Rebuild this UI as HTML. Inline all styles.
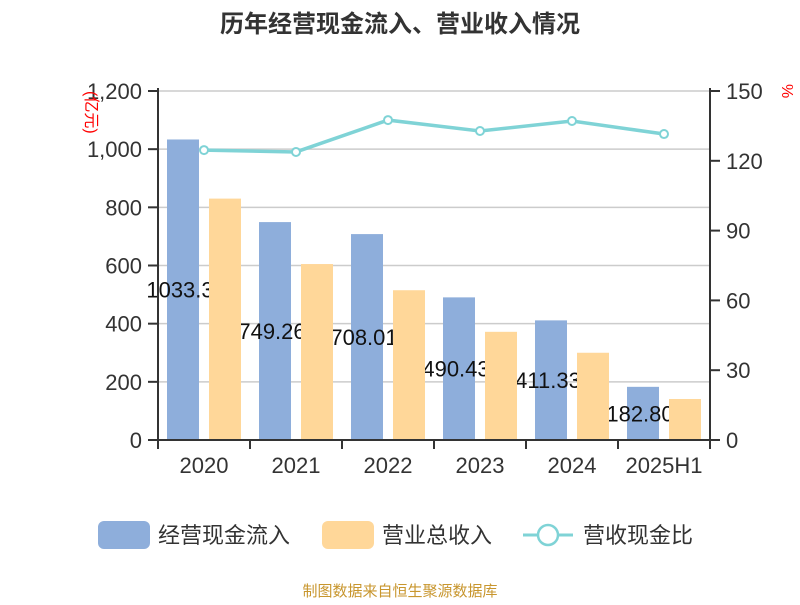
<!DOCTYPE html>
<html><head><meta charset="utf-8"><style>
body{margin:0;background:#fff;width:800px;height:600px;overflow:hidden;font-family:"Liberation Sans","Noto Sans CJK SC",sans-serif}
svg text{font-family:"Liberation Sans","Noto Sans CJK SC",sans-serif}
</style></head><body>
<svg id="c" width="800" height="600"></svg>
<script>
const categories=["2020","2021","2022","2023","2024","2025H1"];
const cashIn=[1033.3,749.26,708.01,490.43,411.33,182.80];
const revenue=[830,605,515,372,300,141];
const ratio=[124.6,123.8,137.5,132.8,137.1,131.5];
const leftTicks=[0,200,400,600,800,1000,1200];
const leftTickLabels=["0","200","400","600","800","1,000","1,200"];
const rightTicks=[0,30,60,90,120,150];

const NS="http://www.w3.org/2000/svg";
const svg=document.getElementById('c');
const X0=158,X1=710,Y0=440,Y1=91;
const bw=(X1-X0)/categories.length;
function yL(v){return Y0-(v/1200)*(Y0-Y1);}
function yR(v){return Y0-(v/150)*(Y0-Y1);}
function xc(i){return X0+bw*(i+0.5);}
function el(t,a,txt){const e=document.createElementNS(NS,t);for(const k in a)e.setAttribute(k,a[k]);if(txt!==undefined)e.textContent=txt;svg.appendChild(e);return e;}

let t=el('text',{x:400,y:32,'text-anchor':'middle','font-size':24,'font-weight':'bold',fill:'#333'},'历年经营现金流入、营业收入情况');


leftTicks.forEach((v,i)=>{
  if(v>0){const g=el('line',{x1:X0,x2:X1,y1:yL(v),y2:yL(v),stroke:'#ccc','stroke-width':1.5});
  }
  const tk=el('line',{x1:148,x2:X0,y1:yL(v),y2:yL(v),stroke:'#333','stroke-width':2});
  
  const l=el('text',{x:142,y:yL(v)+8,'text-anchor':'end','font-size':22,fill:'#333'},leftTickLabels[i]);
  
});
rightTicks.forEach(v=>{
  const tk=el('line',{x1:X1,x2:X1+10,y1:yR(v),y2:yR(v),stroke:'#333','stroke-width':2});
  
  const l=el('text',{x:726,y:yR(v)+8,'font-size':22,fill:'#333'},String(v));
  
});
let u=el('text',{x:0,y:0,'font-size':16,fill:'red',transform:'translate(92,115) rotate(90) translate(-24,6)'},'(亿元)');

u=el('text',{x:0,y:0,'font-size':16,fill:'red',transform:'translate(782,84) rotate(90)'},'%');


cashIn.forEach((v,i)=>{
  const b=el('rect',{x:xc(i)-37,y:yL(v),width:32,height:Y0-yL(v),fill:'#8eaedb'});
  
});
cashIn.forEach((v,i)=>{
  const l=el('text',{x:xc(i)-24,y:(yL(v)+Y0)/2+8,'text-anchor':'middle','font-size':22,fill:'#111'},v.toFixed(2).replace(/0$/,'').replace(/\.$/,'')==='182.8'?'182.80':(v===1033.3?'1033.3':v.toFixed(2)));
  
});
revenue.forEach((v,i)=>{
  const b=el('rect',{x:xc(i)+5,y:yL(v),width:32,height:Y0-yL(v),fill:'#ffd799'});
  
});
let a=el('line',{x1:X0,x2:X0,y1:Y1-3,y2:Y0,stroke:'#333','stroke-width':2});

a=el('line',{x1:X1,x2:X1,y1:Y1-3,y2:Y0,stroke:'#333','stroke-width':2});

a=el('line',{x1:X0,x2:X1,y1:Y0,y2:Y0,stroke:'#333','stroke-width':2});

for(let i=0;i<=categories.length;i++){
  const tk=el('line',{x1:X0+bw*i,x2:X0+bw*i,y1:Y0,y2:Y0+9,stroke:'#333','stroke-width':2});
  
}
categories.forEach((c,i)=>{
  const l=el('text',{x:xc(i),y:473,'text-anchor':'middle','font-size':22,fill:'#333'},c);
  
});
const pts=ratio.map((v,i)=>xc(i)+','+yR(v)).join(' ');
const pl=el('polyline',{points:pts,fill:'none',stroke:'#7fd3d6','stroke-width':3.5});

ratio.forEach((v,i)=>{
  const p=el('circle',{cx:xc(i),cy:yR(v),r:4,fill:'#fff',stroke:'#7fd3d6','stroke-width':2});
  
});
// legend
let r=el('rect',{x:98,y:521,width:52,height:28,rx:6,fill:'#8eaedb'});

let lt=el('text',{x:158,y:543,'font-size':22,fill:'#333'},'经营现金流入');

r=el('rect',{x:322,y:521,width:52,height:28,rx:6,fill:'#ffd799'});

lt=el('text',{x:382,y:543,'font-size':22,fill:'#333'},'营业总收入');

r=el('line',{x1:523,x2:573,y1:535,y2:535,stroke:'#7fd3d6','stroke-width':3});

r=el('circle',{cx:548,cy:535,r:10,fill:'#fff',stroke:'#7fd3d6','stroke-width':2.5});

lt=el('text',{x:583,y:543,'font-size':22,fill:'#333'},'营收现金比');

lt=el('text',{x:400,y:596,'text-anchor':'middle','font-size':15,fill:'#c8962e'},'制图数据来自恒生聚源数据库');

</script>
</body></html>
